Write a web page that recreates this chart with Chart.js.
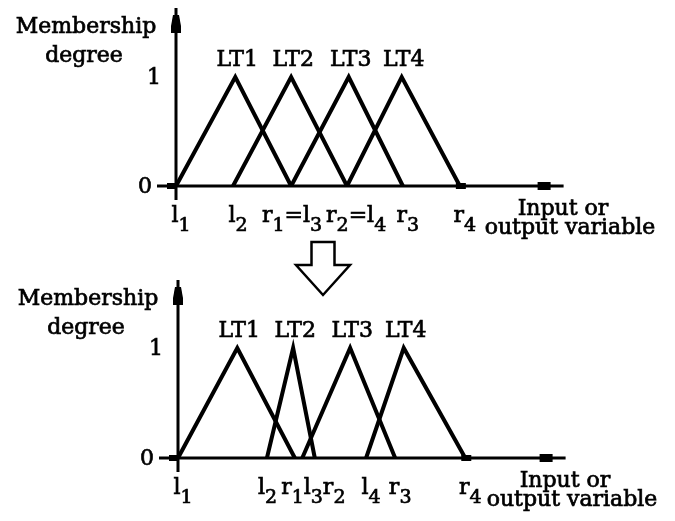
<!DOCTYPE html>
<html>
<head>
<meta charset="utf-8">
<script src="https://cdn.jsdelivr.net/npm/chart.js@4/dist/chart.umd.min.js"></script>
<style>
  html, body { margin: 0; padding: 0; background: #fff; }
  #wrap { position: relative; width: 675px; height: 521px; overflow: hidden; background: #fff; }
  canvas { position: absolute; left: 0; }
</style>
</head>
<body>
<div id="wrap">
  <canvas id="chart-top" width="675" height="300" style="top:0px"></canvas>
  <canvas id="chart-bottom" width="675" height="261" style="top:260px"></canvas>
</div>
<script>
// linguistic terms
const termNames = ['LT1', 'LT2', 'LT3', 'LT4'];

// top panel: left foot, peak, right foot of each triangle
const topLeft  = [0, 1.00, 2.02, 3.00];
const topPeak  = [1.04, 2.02, 3.03, 3.96];
const topRight = [2.02, 3.00, 3.98, 4.98];
const topTicks = [0, 1.00, 2.02, 3.00, 3.98, 4.98];
const topTickLabels = ['l1', 'l2', 'r1=l3', 'r2=l4', 'r3', 'r4'];

// bottom panel (after the arrow)
const botLeft  = [0, 1.56, 2.18, 3.30];
const botPeak  = [1.04, 2.02, 3.02, 3.96];
const botRight = [2.05, 2.40, 3.81, 5.04];
const botTicks = [0, 1.56, 2.05, 2.18, 2.40, 3.30, 3.81, 5.04];
const botTickLabels = ['l1', 'l2', 'r1', 'l3', 'r2', 'l4', 'r3', 'r4'];

const yTicks = [0, 1];
const yTickLabels = ['0', '1'];
const yTitle = ['Membership', 'degree'];
const xTitle = ['Input or', 'output variable'];

const FONT = '"DejaVu Serif", serif';
const MAIN = 22, SUB = 19;

// fill + thin stroke, the scanned original has heavy glyphs
function heavyText(ctx, text, x, y) {
    ctx.fillText(text, x, y);
    ctx.lineWidth = 0.7;
    ctx.strokeText(text, x, y);
}

function measureSub(ctx, text) {
    let w = 0;
    for (const ch of text) {
        ctx.font = (/[0-9]/.test(ch) ? SUB : MAIN) + 'px ' + FONT;
        w += ctx.measureText(ch).width;
    }
    return w;
}

// every digit in a tick label is a subscript
function drawSub(ctx, text, x, y) {
    ctx.textAlign = 'left';
    ctx.textBaseline = 'alphabetic';
    for (const ch of text) {
        const isSub = /[0-9]/.test(ch);
        ctx.font = (isSub ? SUB : MAIN) + 'px ' + FONT;
        heavyText(ctx, ch, x, isSub ? y + 9 : y);
        x += ctx.measureText(ch).width;
    }
}

// join labels that pile up (l2r1l3r2), then push near neighbours apart
function groupLabels(ctx, xs, ticks, labels) {
    let groups = ticks.map((t, i) => ({ vals: [t], text: labels[i] }));
    const center = g => xs.getPixelForValue(g.vals.reduce((a, b) => a + b, 0) / g.vals.length) + 5;
    let merged = true;
    while (merged) {
        merged = false;
        for (let i = 1; i < groups.length; i++) {
            const a = groups[i - 1], b = groups[i];
            const aRight = center(a) + measureSub(ctx, a.text) / 2;
            const bLeft = center(b) - measureSub(ctx, b.text) / 2;
            if (aRight - bLeft > 5) {
                groups.splice(i - 1, 2, { vals: a.vals.concat(b.vals), text: a.text + b.text });
                merged = true;
                break;
            }
        }
    }
    const out = groups.map(g => {
        const w = measureSub(ctx, g.text);
        return { text: g.text, x: center(g) - w / 2, w: w };
    });
    for (let i = 1; i < out.length; i++) {
        const a = out[i - 1], b = out[i];
        const over = a.x + a.w + 4 - b.x;
        if (over > 0) {
            a.x -= over / 2;
            b.x += over / 2;
        }
    }
    return out;
}

function decorPlugin(ticks, tickLabels, peaks, withArrow) {
    return {
        id: 'decor',
        afterDatasetsDraw(chart) {
            const ctx = chart.ctx;
            const xs = chart.scales.x, ys = chart.scales.y;
            const x0 = xs.getPixelForValue(0), y0 = ys.getPixelForValue(0);
            const xEnd = xs.getPixelForValue(xs.max);
            ctx.save();
            ctx.strokeStyle = '#000';
            ctx.fillStyle = '#000';

            // axes
            ctx.lineWidth = 3;
            ctx.beginPath();
            ctx.moveTo(x0 - 19, y0);
            ctx.lineTo(xEnd, y0);
            ctx.moveTo(x0, y0 + 14);
            ctx.lineTo(x0, y0 - 178);
            ctx.stroke();

            // arrow blobs on the axes
            ctx.beginPath();
            ctx.moveTo(x0 - 3, y0 - 171);
            ctx.lineTo(x0 + 3, y0 - 171);
            ctx.lineTo(x0 + 5, y0 - 160);
            ctx.lineTo(x0 + 5, y0 - 153);
            ctx.lineTo(x0 - 5, y0 - 153);
            ctx.lineTo(x0 - 5, y0 - 160);
            ctx.closePath();
            ctx.fill();
            ctx.fillRect(xEnd - 26, y0 - 4, 13, 8);
            ctx.fillRect(x0 - 9, y0 - 3, 9, 6);
            const rEnd = xs.getPixelForValue(ticks[ticks.length - 1]);
            ctx.fillRect(rEnd - 4, y0 - 3, 10, 6);

            // y tick labels
            ctx.font = MAIN + 'px ' + FONT;
            ctx.textAlign = 'right';
            ctx.textBaseline = 'middle';
            yTicks.forEach((v, i) => {
                heavyText(ctx, yTickLabels[i], v === 0 ? x0 - 24 : x0 - 15, ys.getPixelForValue(v) + 1);
            });

            // y title
            ctx.font = '22px ' + FONT;
            ctx.textAlign = 'center';
            ctx.textBaseline = 'alphabetic';
            heavyText(ctx, yTitle[0], x0 - 90, y0 - 153);
            heavyText(ctx, yTitle[1], x0 - 92, y0 - 124);

            // term names above the peaks
            ctx.font = '22px ' + FONT;
            termNames.forEach((n, i) => {
                heavyText(ctx, n, xs.getPixelForValue(peaks[i]) + 2, ys.getPixelForValue(1) - 11);
            });

            // x tick labels
            groupLabels(ctx, xs, ticks, tickLabels).forEach(g => drawSub(ctx, g.text, g.x, y0 + 36));

            // x title
            ctx.font = '22px ' + FONT;
            ctx.textAlign = 'center';
            ctx.textBaseline = 'alphabetic';
            heavyText(ctx, xTitle[0], x0 + 387, y0 + 29);
            heavyText(ctx, xTitle[1], x0 + 394, y0 + 48);

            // hollow arrow between the panels
            if (withArrow) {
                const cx = x0 + 147;
                ctx.lineWidth = 2.5;
                ctx.lineJoin = 'miter';
                ctx.beginPath();
                ctx.moveTo(cx - 11.5, y0 + 56);
                ctx.lineTo(cx + 11.5, y0 + 56);
                ctx.lineTo(cx + 11.5, y0 + 79);
                ctx.lineTo(cx + 27, y0 + 79);
                ctx.lineTo(cx, y0 + 109);
                ctx.lineTo(cx - 27, y0 + 79);
                ctx.lineTo(cx - 11.5, y0 + 79);
                ctx.closePath();
                ctx.stroke();
            }
            ctx.restore();
        }
    };
}

function makeChart(id, lefts, peaks, rights, ticks, tickLabels, pad, withArrow) {
    const datasets = termNames.map((n, i) => ({
        label: n,
        data: [{ x: lefts[i], y: 0 }, { x: peaks[i], y: 1 }, { x: rights[i], y: 0 }],
        borderColor: '#000',
        borderWidth: 4,
        borderJoinStyle: 'miter',
        pointRadius: 0,
        tension: 0,
        fill: false,
        clip: false
    }));
    return new Chart(document.getElementById(id), {
        type: 'line',
        data: { datasets: datasets },
        options: {
            responsive: false,
            animation: false,
            events: [],
            layout: { padding: pad },
            plugins: { legend: { display: false }, tooltip: { enabled: false } },
            scales: {
                x: { type: 'linear', min: 0, max: 6.8, display: false },
                y: { min: 0, max: 1.6, display: false }
            }
        },
        plugins: [decorPlugin(ticks, tickLabels, peaks, withArrow)]
    });
}

var chart_top = makeChart('chart-top', topLeft, topPeak, topRight, topTicks, topTickLabels,
    { left: 176, right: 111.4, top: 11.6, bottom: 114 }, true);
var chart_bottom = makeChart('chart-bottom', botLeft, botPeak, botRight, botTicks, botTickLabels,
    { left: 178, right: 109.4, top: 22, bottom: 63 }, false);
</script>
</body>
</html>
